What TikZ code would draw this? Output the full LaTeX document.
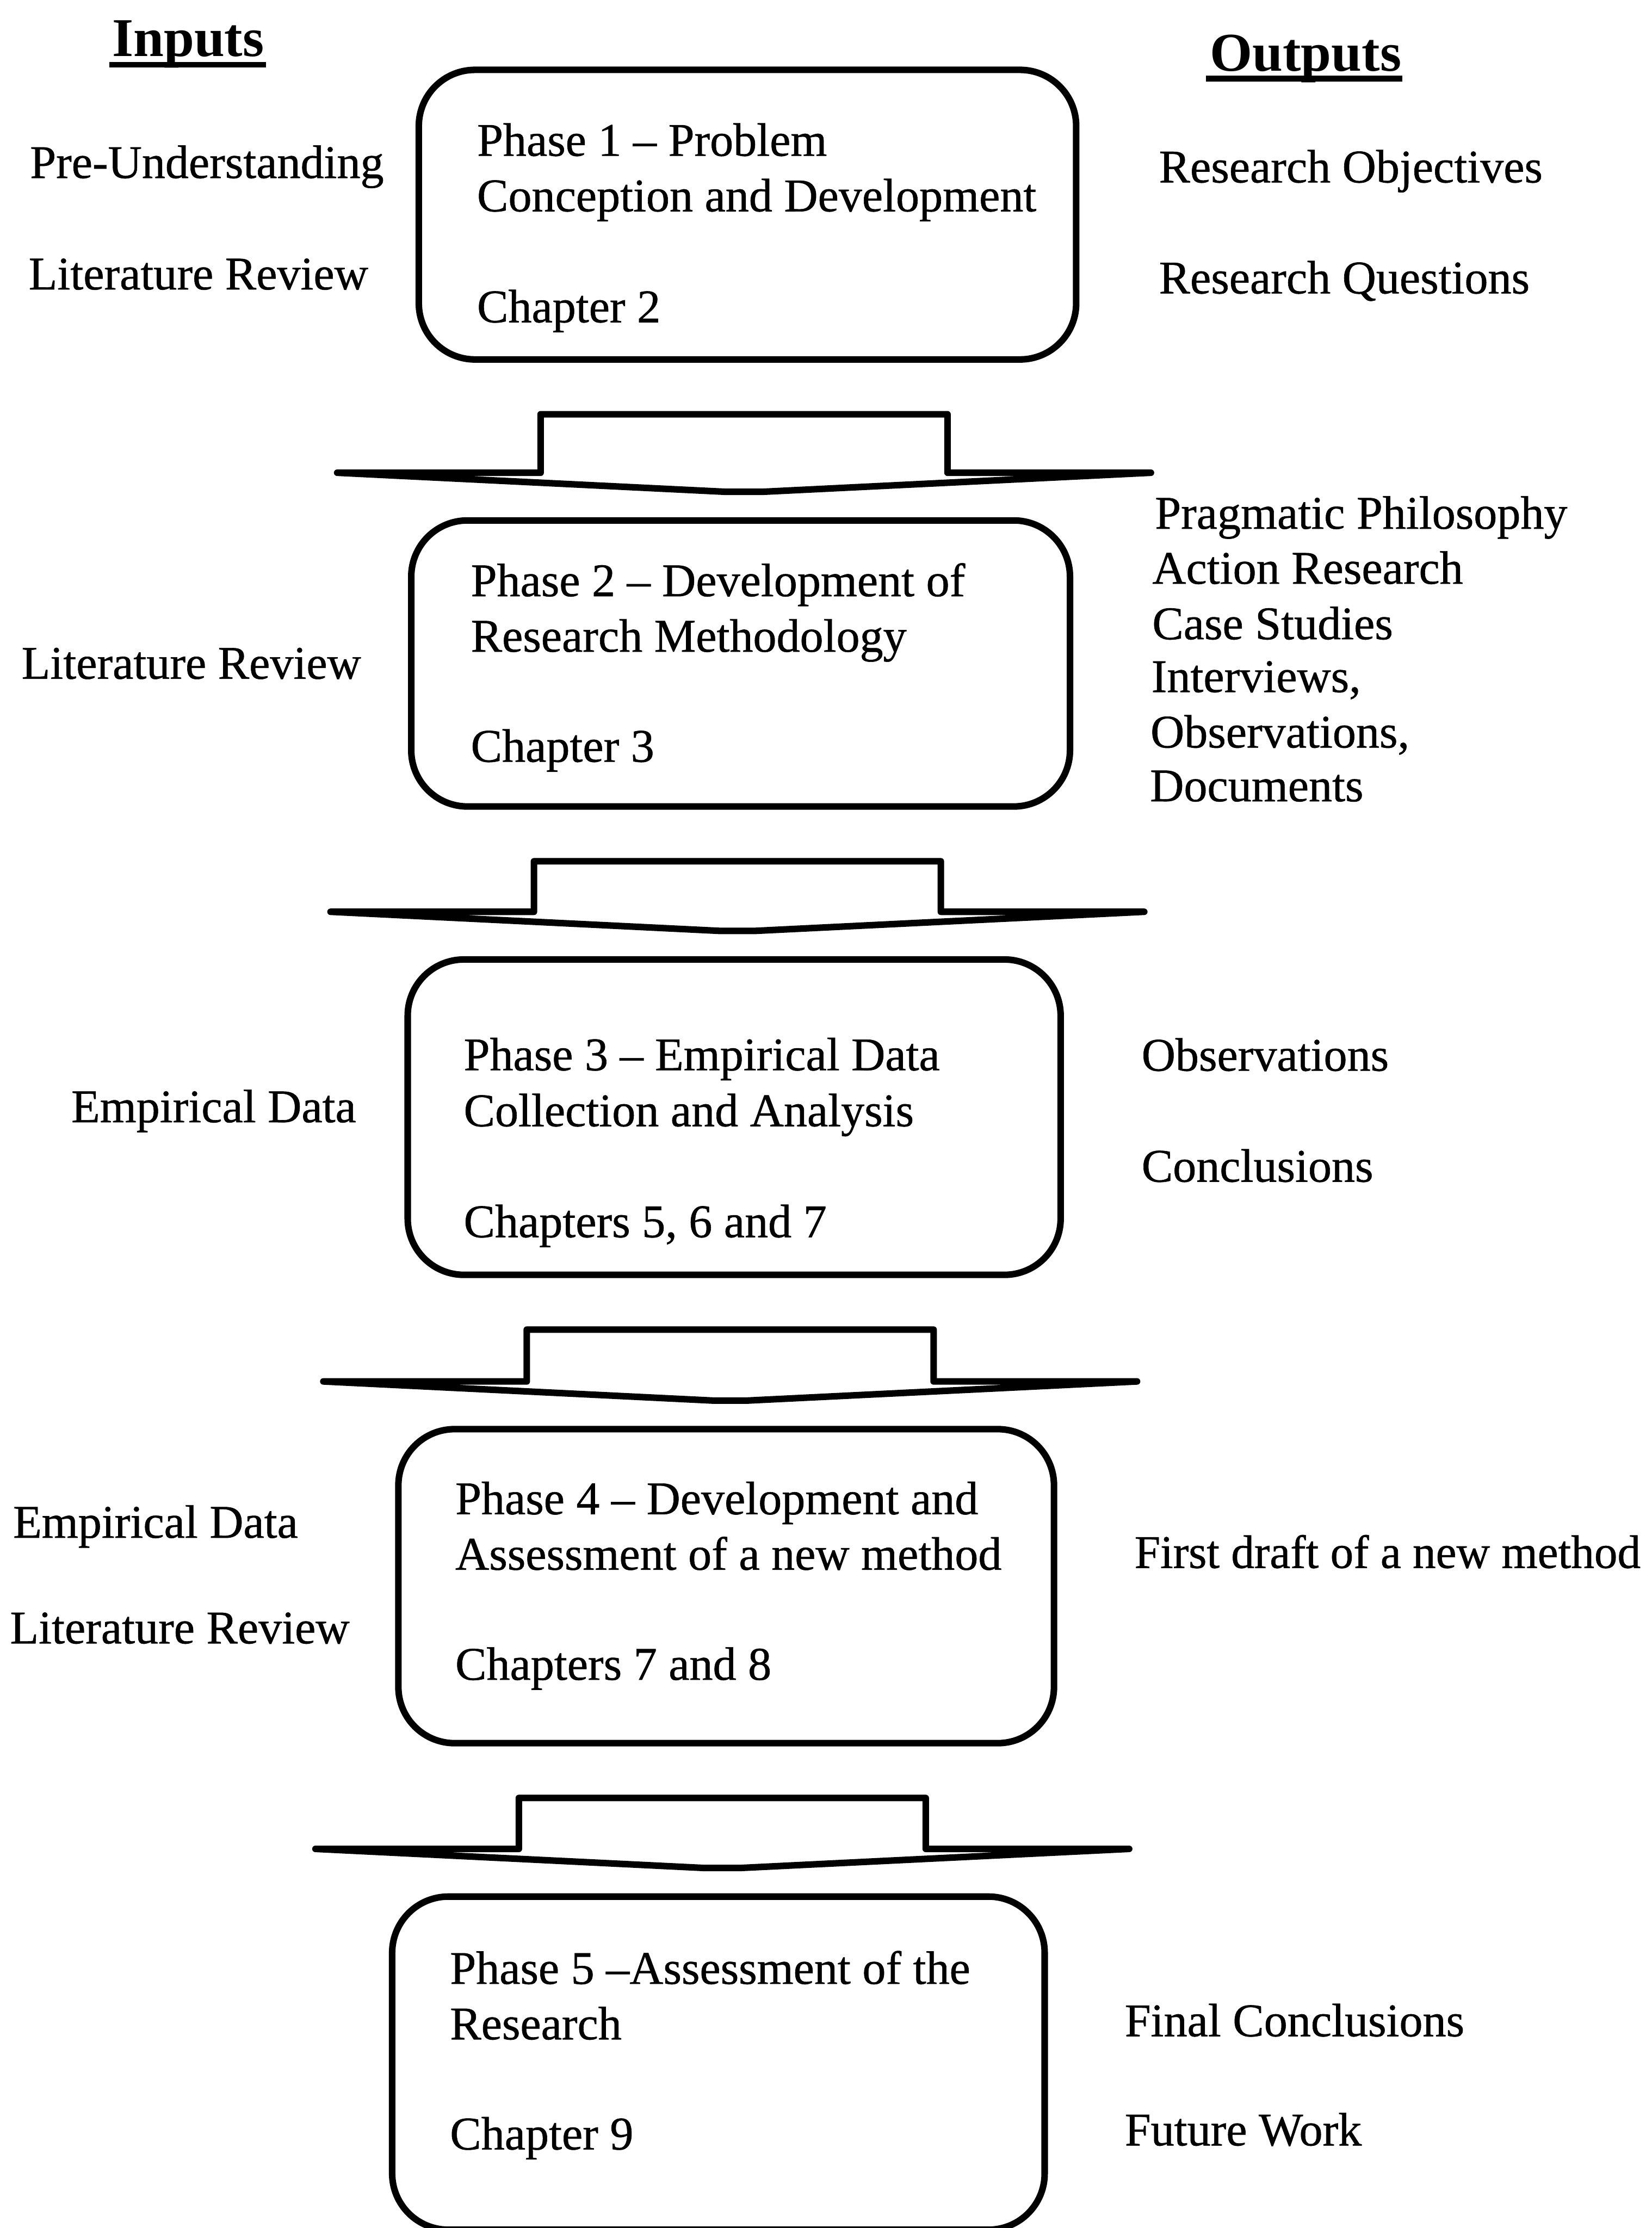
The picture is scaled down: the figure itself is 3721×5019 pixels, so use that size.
\documentclass[tikz,border=0pt]{standalone}
\usepackage{fontspec}
\setmainfont{Liberation Serif}
\usetikzlibrary{calc}

\tikzset{
  lbl/.style={anchor=base west, inner sep=0pt,
              font=\fontsize{30}{35}\selectfont\addfontfeatures{FakeBold=0.7}},
  hdr/.style={anchor=base west, inner sep=0pt, font=\fontsize{35}{40}\selectfont\bfseries},
  phasebox/.style={draw, line width=4.2pt, rounded corners=36pt, anchor=north west,
                   inner sep=0pt, fill=white},
  blockarrow/.style={draw, line width=4.2pt, line join=round, fill=white},
  uline/.style={line width=0.13cm},
}

% Flat block arrow pointing down from phase box #1 to phase box #2
\newcommand\phasearrow[2]{%
  \coordinate (#1-mid) at ($(#1.south)!0.5!(#2.north)$);
  \path let \p1=(#1.south), \p2=(#2.north), \p3=(#1-mid) in
    coordinate (#1-a) at (\x3, \y1-1.16cm)
    coordinate (#1-f) at (\x3, \y2+1.0cm)
    coordinate (#1-t) at (\x3, \y2+0.57cm);
  \draw[blockarrow]
    ($(#1-a)+(-4.58cm,0)$) -- ($(#1-a)+(4.58cm,0)$) --
    ($(#1-f)+(4.58cm,0)$) -- ($(#1-f)+(9.16cm,0)$) --
    ($(#1-t)+(0.4cm,0)$) -- ($(#1-t)+(-0.4cm,0)$) --
    ($(#1-f)+(-9.16cm,0)$) -- ($(#1-f)+(-4.58cm,0)$) -- cycle;
}

\begin{document}
\begin{tikzpicture}[x=0.01cm, y=-0.01cm]
\useasboundingbox (0,0) rectangle (3721,5019);
\fill[white] (0,0) rectangle (3721,5019);

% headings
\node[hdr] (inputs) at (252,127) {Inputs};
\node[hdr] (outputs) at (2725,160) {Outputs};
\draw[uline] ([xshift=-0.06cm, yshift=-0.19cm]inputs.base west) -- ([xshift=0.04cm, yshift=-0.19cm]inputs.base east);
\draw[uline] ([xshift=-0.08cm, yshift=-0.17cm]outputs.base west) -- ([xshift=0.01cm, yshift=-0.17cm]outputs.base east);

% phase boxes
\node[phasebox, minimum width=14.80cm, minimum height=6.52cm] (p1) at (936,150) {};
\node[phasebox, minimum width=14.83cm, minimum height=6.44cm] (p2) at (919,1165) {};
\node[phasebox, minimum width=14.70cm, minimum height=7.10cm] (p3) at (911,2154) {};
\node[phasebox, minimum width=14.76cm, minimum height=7.07cm] (p4) at (890,3212) {};
\node[phasebox, minimum width=14.69cm, minimum height=7.50cm] (p5) at (876,4265) {};

% arrows between the phases
\phasearrow{p1}{p2}
\phasearrow{p2}{p3}
\phasearrow{p3}{p4}
\phasearrow{p4}{p5}

% phase texts
\node[lbl] (p1l1) at (1074,351) {Phase 1 – Problem};
\node[lbl] (p1l2) at (1074,476) {Conception and Development};
\node[lbl] (p1l3) at (1074,726) {Chapter 2};

\node[lbl] (p2l1) at (1060,1343) {Phase 2 – Development of};
\node[lbl] (p2l2) at (1060,1468) {Research Methodology};
\node[lbl] (p2l3) at (1060,1716) {Chapter 3};

\node[lbl] (p3l1) at (1044,2411) {Phase 3 – Empirical Data};
\node[lbl] (p3l2) at (1044,2537) {Collection and Analysis};
\node[lbl] (p3l3) at (1044,2787) {Chapters 5, 6 and 7};

\node[lbl] (p4l1) at (1025,3411) {Phase 4 – Development and};
\node[lbl] (p4l2) at (1025,3536) {Assessment of a new method};
\node[lbl] (p4l3) at (1025,3784) {Chapters 7 and 8};

\node[lbl] (p5l1) at (1013,4469) {Phase 5 –Assessment of the};
\node[lbl] (p5l2) at (1013,4594) {Research};
\node[lbl] (p5l3) at (1013,4842) {Chapter 9};

% inputs
\node[lbl] (in1a) at (67,401) {Pre-Understanding};
\node[lbl] (in1b) at (64,652) {Literature Review};
\node[lbl] (in2a) at (48,1529) {Literature Review};
\node[lbl] (in3a) at (160,2528) {Empirical Data};
\node[lbl] (in4a) at (29,3464) {Empirical Data};
\node[lbl] (in4b) at (22,3702) {Literature Review};

% outputs
\node[lbl] (out1a) at (2610,411) {Research Objectives};
\node[lbl] (out1b) at (2610,661) {Research Questions};
\node[lbl] (out2a) at (2601,1191) {Pragmatic Philosophy};
\node[lbl] (out2b) at (2595,1315) {Action Research};
\node[lbl] (out2c) at (2595,1440) {Case Studies};
\node[lbl] (out2d) at (2593,1559) {Interviews,};
\node[lbl] (out2e) at (2591,1684) {Observations,};
\node[lbl] (out2f) at (2590,1805) {Documents};
\node[lbl] (out3a) at (2571,2412) {Observations};
\node[lbl] (out3b) at (2571,2662) {Conclusions};
\node[lbl] (out4a) at (2555,3532) {\scalebox{0.99}[1]{First draft of a new method}};
\node[lbl] (out5a) at (2533,4587) {Final Conclusions};
\node[lbl] (out5b) at (2533,4833) {Future Work};
\end{tikzpicture}
\end{document}
